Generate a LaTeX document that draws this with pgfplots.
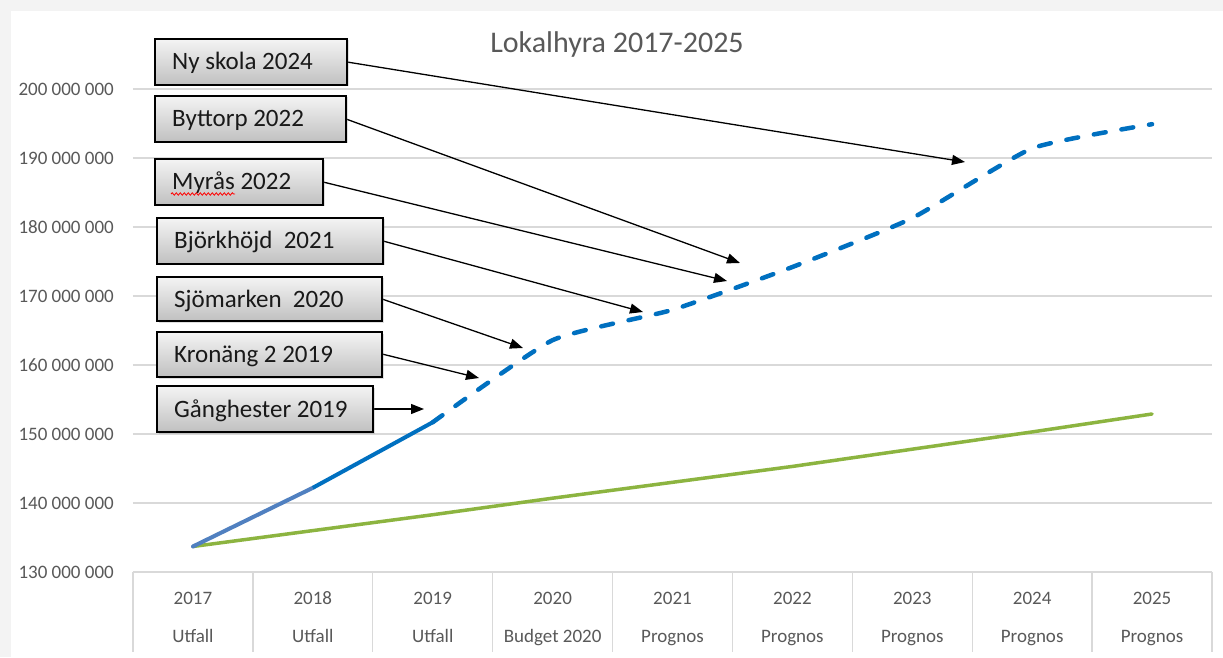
\documentclass[border=0pt]{standalone}
\usepackage{fontspec}
\setmainfont{Carlito}
\usepackage{pgfplots}
\pgfplotsset{compat=1.18}
\usetikzlibrary{arrows.meta,shadows,decorations.pathmorphing}
\definecolor{tickgray}{RGB}{89,89,89}
\definecolor{gridgray}{RGB}{217,217,217}
\definecolor{xblue}{RGB}{0,112,192}
\definecolor{xblue0}{RGB}{80,128,192}
\definecolor{xgreen}{RGB}{140,180,64}
\definecolor{boxtop}{RGB}{244,244,244}
\definecolor{boxbot}{RGB}{192,192,192}
\definecolor{bggray}{RGB}{243,243,243}

\newcommand\anno[5]{%
  \draw[draw=black, line width=1.4pt, top color=boxtop, bottom color=boxbot,
        drop shadow={opacity=0.25, shadow xshift=1.5pt, shadow yshift=-1.5pt}]
        (#1,#2) rectangle (#3,#4);
  \node[anchor=base west, inner sep=0pt, font=\fontsize{25}{30}\selectfont, text={rgb,255:red,25;green,25;blue,25}]
        at ({#1+17},{(#2+#4)/2-8}) {#5};
}

\begin{document}
\begin{tikzpicture}[x=1pt,y=1pt]
\fill[bggray] (0,0) rectangle (1223,657);
\fill[white] (11,0) rectangle (1223,646);
\useasboundingbox (0,0) rectangle (1223,657);
\begin{axis}[
  at={(133pt,85pt)}, anchor=south west, scale only axis,
  width=1079pt, height=483pt,
  xmin=-0.5, xmax=8.5, ymin=130000000, ymax=200000000,
  scaled y ticks=false,
  axis line style={draw=none}, major tick length=0pt,
  ytick={130000000,140000000,150000000,160000000,170000000,180000000,190000000,200000000},
  yticklabels={130 000 000,140 000 000,150 000 000,160 000 000,170 000 000,180 000 000,190 000 000,200 000 000},
  ymajorgrids, grid style={gridgray, line width=1.4pt},
  yticklabel style={font=\fontsize{19}{22}\selectfont, text=tickgray, anchor=east, inner sep=0pt, xshift=-19pt},
  xtick={0,1,2,3,4,5,6,7,8},
  xticklabels={2017,2018,2019,2020,2021,2022,2023,2024,2025},
  xticklabel style={font=\fontsize{19}{22}\selectfont, text=tickgray, anchor=base, inner sep=0pt, yshift=-32pt, text height=13pt, text depth=4pt},
  clip=false,
]
\pgfplotsinvokeforeach{-0.5,0.5,1.5,2.5,3.5,4.5,5.5,6.5,7.5,8.5}{
  \draw[gridgray, line width=1.4pt] (axis cs:#1,130000000) -- ++(0pt,-80pt);
}
\pgfplotsforeachungrouped \i/\lab in {0/Utfall,1/Utfall,2/Utfall,3/Budget 2020,4/Prognos,5/Prognos,6/Prognos,7/Prognos,8/Prognos}{
  \edef\temp{\noexpand\node[font=\noexpand\fontsize{19}{22}\noexpand\selectfont, text=tickgray, anchor=base, inner sep=0pt]
    at ([yshift=-70pt]axis cs:\i,130000000) {\lab};}
  \temp
}
\addplot[xgreen, line width=3.5pt, line cap=round] coordinates {
  (0,133700000) (1,136000000) (2,138300000) (3,140700000) (4,143000000)
  (5,145300000) (6,147800000) (7,150300000) (8,152900000)};
\addplot[xblue0, line width=4pt, line cap=round] coordinates {(0,133700000) (1,142200000)};
\addplot[xblue, line width=4pt] coordinates {(1,142200000) (2,151700000)};
\addplot[xblue, line width=4.5pt, line cap=round, dash pattern=on 12pt off 16pt, smooth, tension=0.3] coordinates {
  (2,151700000) (3,163600000) (4,168000000) (5,174200000) (6,181300000) (7,191400000) (8,194900000)};
\end{axis}

\node[font=\fontsize{30}{36}\selectfont, text=tickgray] at (617,612) {Lokalhyra 2017-2025};

\begin{scope}[line width=1.3pt, -{Triangle[length=13pt,width=10pt]}]
\draw (347,595) -- (965,495);
\draw (346,538) -- (740,394);
\draw (323,475) -- (727,376);
\draw (383,416) -- (643,345);
\draw (382,358) -- (523,309);
\draw (382,303) -- (479,279);
\draw (373,248) -- (424,248);
\end{scope}

\anno{155}{572}{347}{618}{Ny skola 2024}
\anno{155}{515}{346}{561}{Byttorp 2022}
\anno{155}{452}{323}{498}{Myrås 2022}
\anno{157}{393}{383}{439}{Björkhöjd\ \ 2021}
\anno{157}{336}{382}{380}{Sjömarken\ \ 2020}
\anno{157}{280}{382}{325}{Kronäng 2 2019}
\anno{157}{225}{373}{271}{Gånghester 2019}
\draw[red, line width=0.8pt, decorate, decoration={snake, amplitude=1.2pt, segment length=4pt}] (171,463) -- (235,463);
\end{tikzpicture}
\end{document}
